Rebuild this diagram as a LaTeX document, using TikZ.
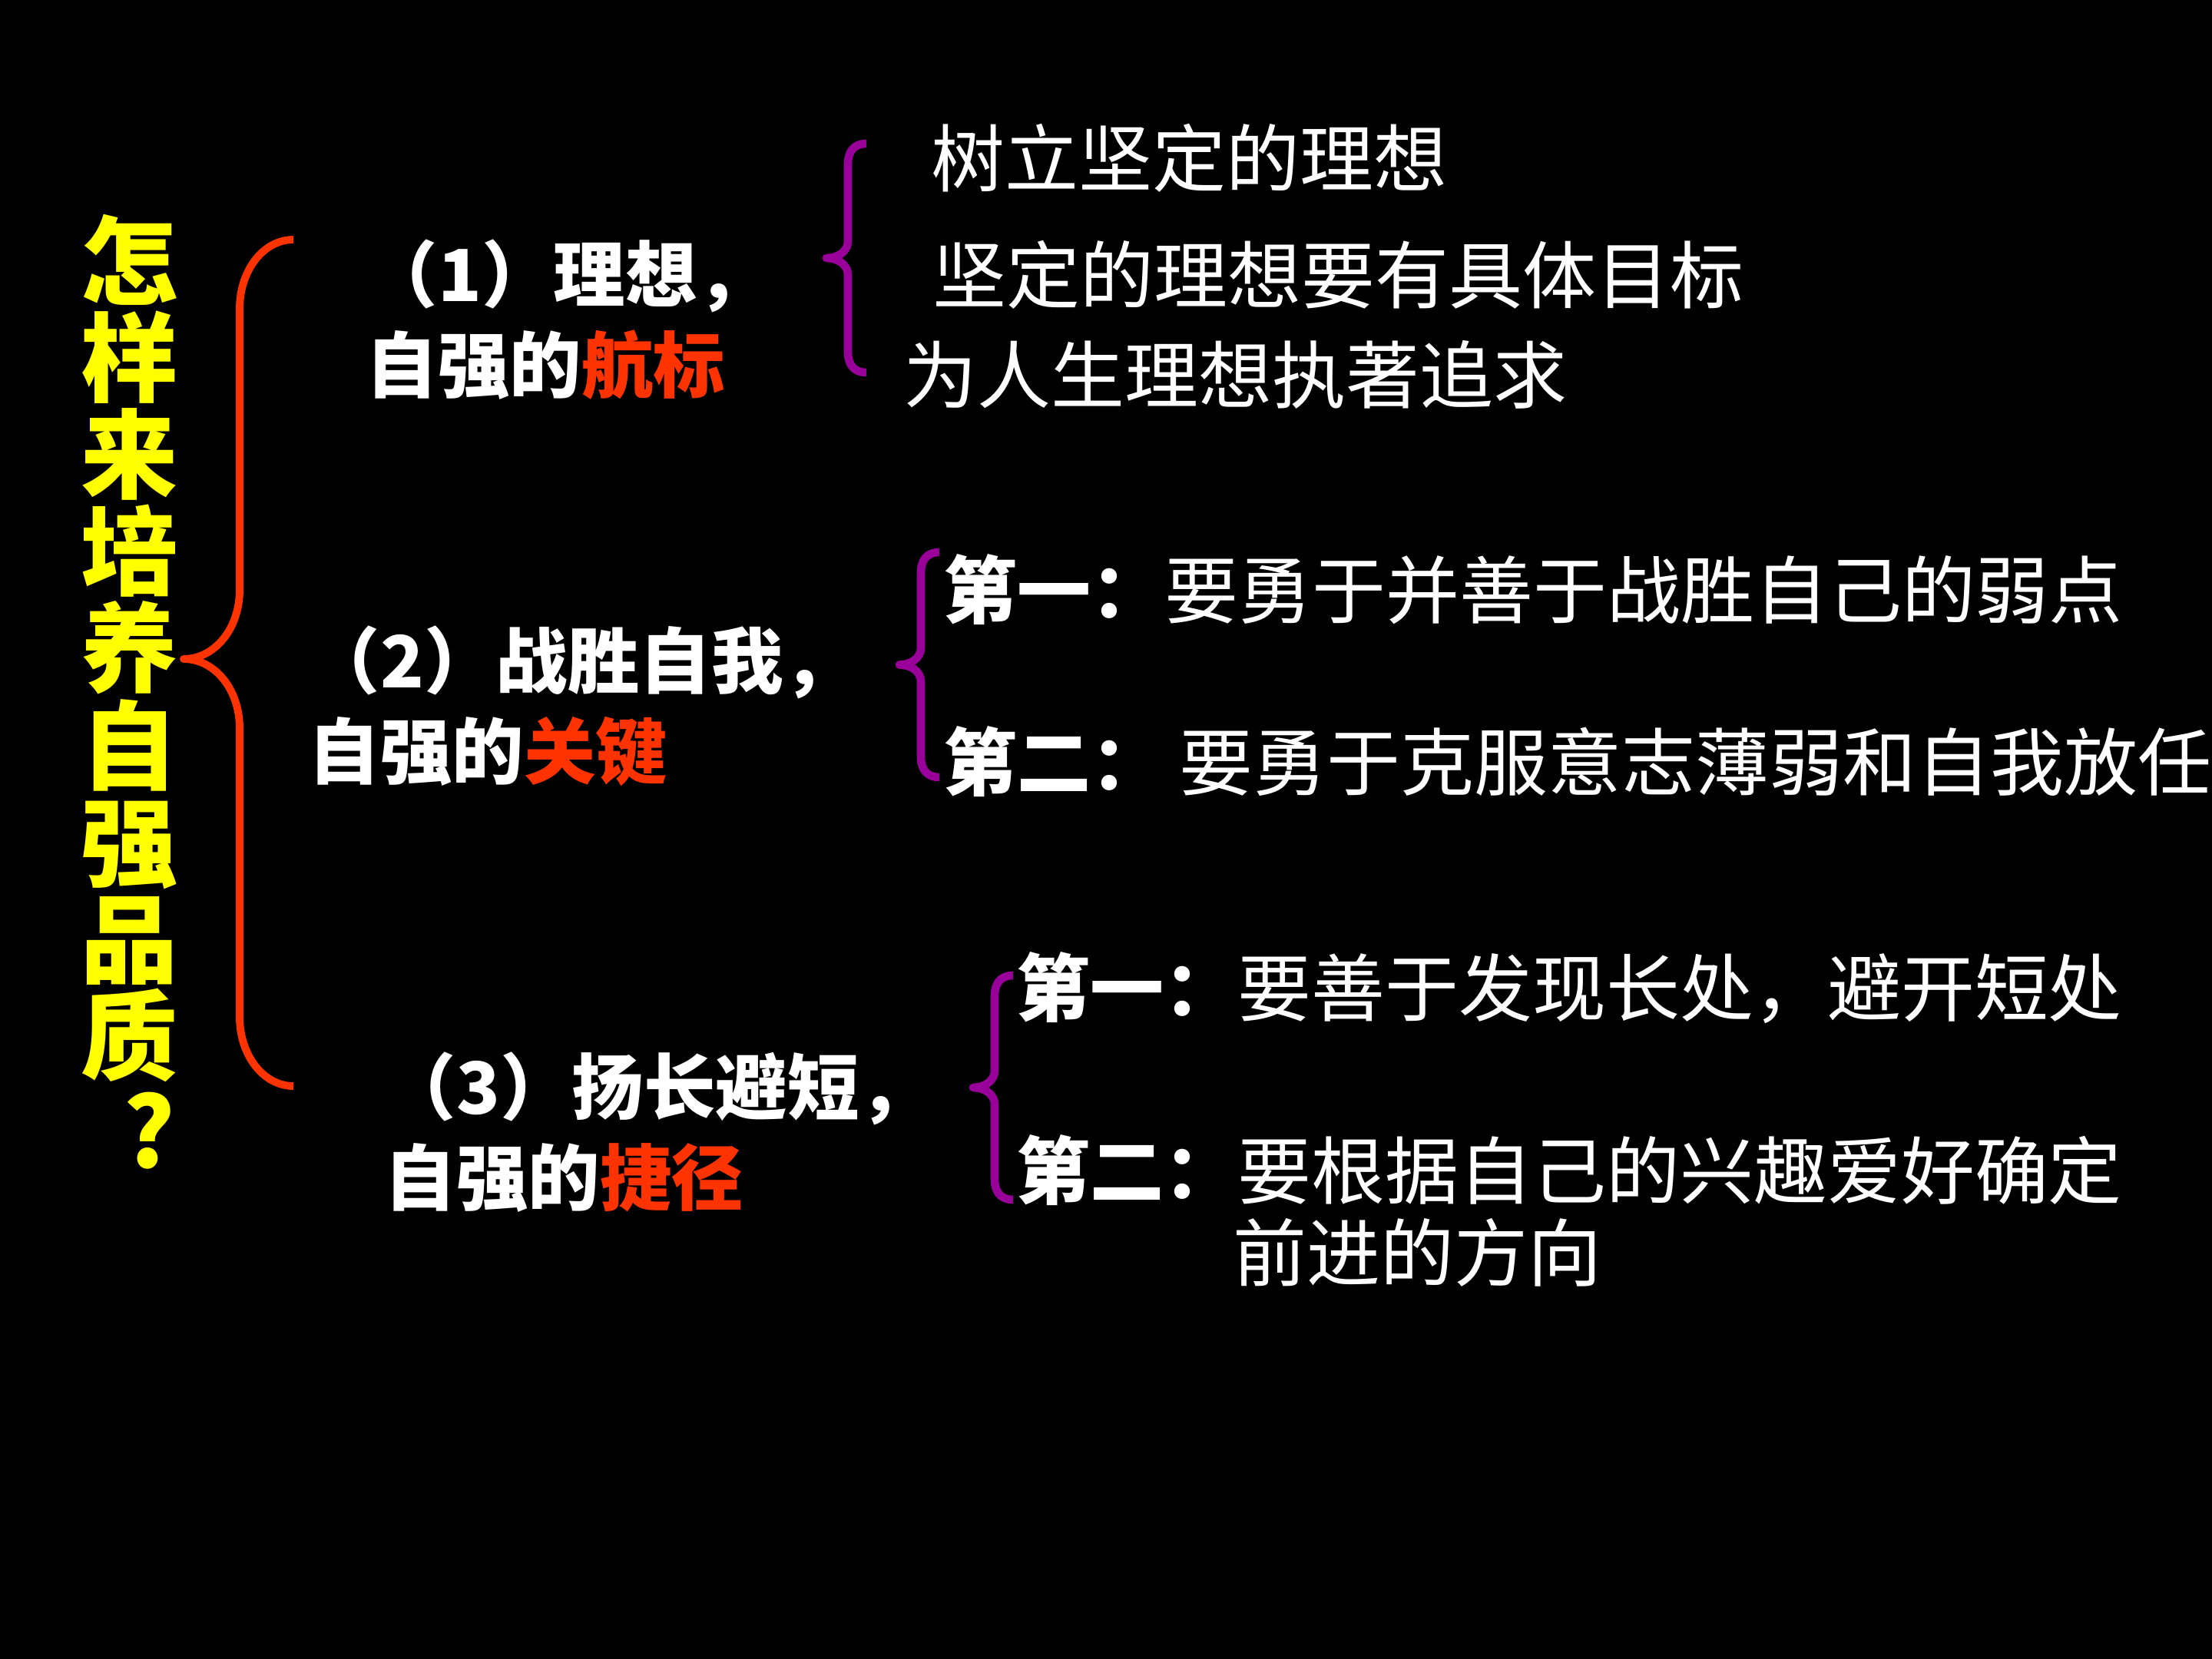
\documentclass[tikz,border=0pt]{standalone}
\usepackage{fontspec}
\usepackage{tikz}
\usetikzlibrary{positioning}
\usepackage{xcolor}
\newfontfamily\cjk{Noto Sans CJK SC}
\definecolor{titleyellow}{RGB}{255,255,0}
\definecolor{bracered}{RGB}{255,51,0}
\definecolor{braceviolet}{RGB}{153,0,153}
\newcommand{\keyword}[1]{\textcolor{bracered}{#1}}
\begin{document}
\begin{tikzpicture}[
  titletext/.style={font=\cjk\bfseries\fontsize{35.9}{35.9}\selectfont, text=titleyellow,
                    align=center, inner sep=0pt},
  headtext/.style={font=\cjk\bfseries\fontsize{26.6}{33.6}\selectfont, text=white,
                   align=left, anchor=west, inner sep=0pt},
  pointtext/.style={font=\cjk\fontsize{27.3}{27.3}\selectfont, text=white,
                    anchor=west, inner sep=0pt},
  redbrace/.style={draw=bracered, line width=2.8pt, line join=round},
  violetbrace/.style={draw=braceviolet, line width=3pt, line join=round},
]
  \fill[black] (0,0) rectangle (28.8,-21.6);
  \useasboundingbox (0,0) rectangle (28.8,-21.6);

  \node[titletext] (title) at (1.69,-8.44) {怎\\样\\来\\培\\养\\自\\强\\品\\质};
  \node[titletext] (qmark) at (1.94,-14.72) {?};

  \draw[redbrace] (3.82,-3.12) .. controls (3.43,-3.12) and (3.12,-3.52) .. (3.12,-4.02)
    -- (3.12,-7.68) .. controls (3.12,-8.18) and (2.80,-8.58) .. (2.39,-8.58)
    .. controls (2.80,-8.58) and (3.12,-8.98) .. (3.12,-9.48)
    -- (3.12,-13.24) .. controls (3.12,-13.74) and (3.43,-14.14) .. (3.82,-14.14);

  \node[headtext] (ideal) at (4.76,-4.16) {（1）理想，\\自强的\keyword{航标}};
  \node[headtext] (self) at (4.01,-9.195) {（2）战胜自我，\\自强的\keyword{关键}};
  \node[headtext] (merit) at (5.00,-14.74) {（3）扬长避短，\\自强的\keyword{捷径}};

  % Sub-point braces
  \foreach \xe/\yt/\yb [evaluate=\yt as \ym using (\yt+\yb)/2] in
      {11.28/-1.87/-4.85, 12.23/-7.19/-10.12, 13.19/-12.70/-15.62}
    \draw[violetbrace] (\xe,\yt) .. controls (\xe-0.16,\yt) and (\xe-0.24,\yt-0.10) .. (\xe-0.24,\yt-0.27)
      -- (\xe-0.24,\ym+0.22) .. controls (\xe-0.24,\ym+0.08) and (\xe-0.38,\ym) .. (\xe-0.52,\ym)
      .. controls (\xe-0.38,\ym) and (\xe-0.24,\ym-0.08) .. (\xe-0.24,\ym-0.22)
      -- (\xe-0.24,\yb+0.27) .. controls (\xe-0.24,\yb+0.10) and (\xe-0.16,\yb) .. (\xe,\yb);

  \node[pointtext] (ideala) at (12.12,-2.06) {树立坚定的理想};
  \node[pointtext] (idealb) at (12.14,-3.58) {坚定的理想要有具体目标};
  \node[pointtext] (idealc) at (11.76,-4.88) {为人生理想执著追求};

  \node[pointtext] (selfa) at (12.28,-7.68) {{\bfseries 第一：}要勇于并善于战胜自己的弱点};
  \node[pointtext] (selfb) at (12.28,-9.92) {{\bfseries 第二：}\hspace{0.2em}要勇于克服意志薄弱和自我放任};

  \node[pointtext] (merita) at (13.23,-12.86) {{\bfseries 第一：}要善于发现长处，避开短处};
  \node[pointtext] (meritb) at (13.23,-15.24) {{\bfseries 第二：}要根据自己的兴趣爱好确定};
  \node[pointtext] (meritc) at (16.05,-16.31) {前进的方向};
\end{tikzpicture}
\end{document}
